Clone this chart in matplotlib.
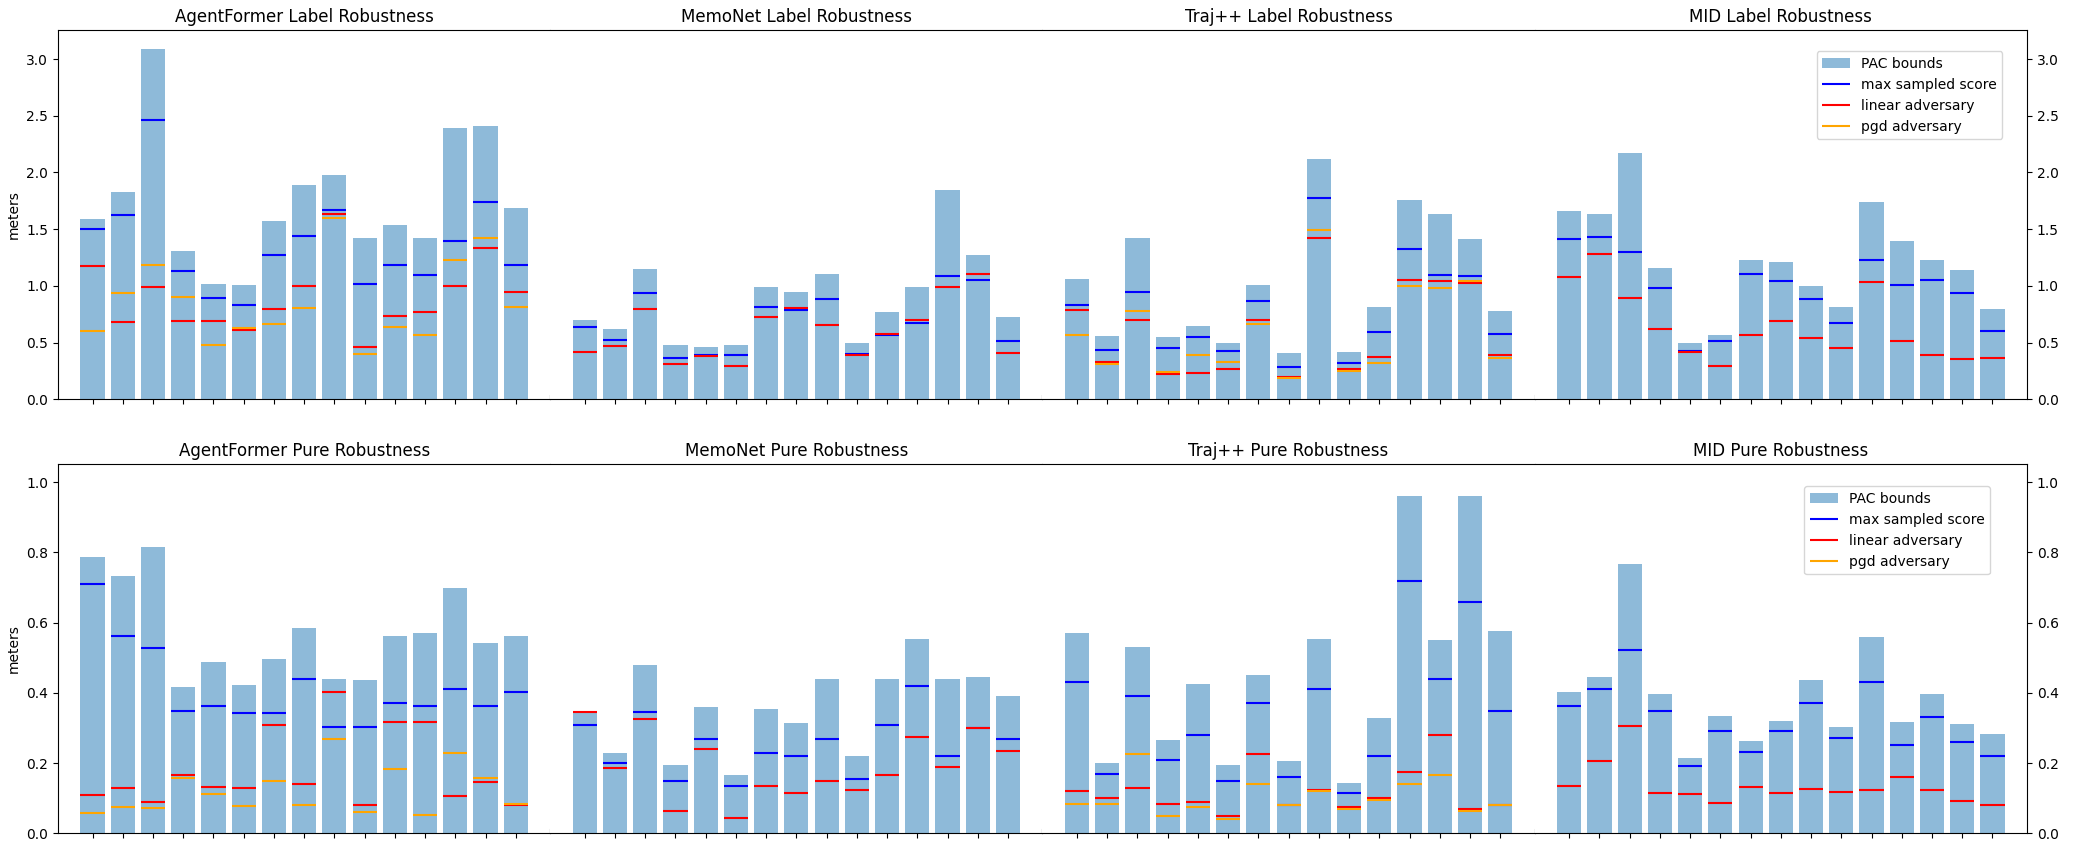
import numpy as np
import matplotlib
matplotlib.use("Agg")
import matplotlib.pyplot as plt

# ==========================================
# DATA (meters)
# ==========================================
models = ["AgentFormer", "MemoNet", "Traj++", "MID"]
rows = ["Label", "Pure"]

# --- Label robustness ---
af_label_pac = [1.593, 1.831, 3.09, 1.312, 1.021, 1.004, 1.576, 1.893, 1.981, 1.426, 1.540, 1.426, 2.394, 2.412, 1.690]
af_label_max = [1.505, 1.628, 2.459, 1.127, 0.889, 0.830, 1.276, 1.444, 1.673, 1.021, 1.180, 1.093, 1.394, 1.737, 1.183]
af_label_lin = [1.174, 0.681, 0.989, 0.689, 0.689, 0.610, 0.792, 0.998, 1.637, 0.461, 0.731, 0.768, 0.998, 1.332, 0.945]
af_label_pgd = [0.599, 0.933, 1.180, 0.898, 0.475, 0.625, 0.663, 0.801, 1.602, 0.402, 0.634, 0.566, 1.232, 1.426, 0.810]

mn_label_pac = [0.695, 0.616, 1.153, 0.475, 0.458, 0.475, 0.986, 0.942, 1.109, 0.493, 0.766, 0.986, 1.849, 1.276, 0.722]
mn_label_max = [0.637, 0.522, 0.933, 0.364, 0.390, 0.390, 0.810, 0.786, 0.883, 0.399, 0.566, 0.672, 1.086, 1.050, 0.514]
mn_label_lin = [0.417, 0.470, 0.792, 0.311, 0.382, 0.293, 0.722, 0.804, 0.654, 0.387, 0.578, 0.695, 0.989, 1.103, 0.408]
mn_label_pgd = []

tj_label_pac = [1.065, 0.555, 1.426, 0.546, 0.643, 0.493, 1.004, 0.405, 2.121, 0.414, 0.810, 1.761, 1.637, 1.417, 0.775]
tj_label_max = [0.830, 0.434, 0.942, 0.452, 0.548, 0.425, 0.863, 0.285, 1.778, 0.320, 0.593, 1.323, 1.100, 1.083, 0.575]
tj_label_lin = [0.786, 0.329, 0.695, 0.223, 0.232, 0.267, 0.695, 0.197, 1.420, 0.267, 0.373, 1.050, 1.039, 1.024, 0.390]
tj_label_pgd = [0.566, 0.314, 0.775, 0.244, 0.390, 0.329, 0.663, 0.188, 1.491, 0.249, 0.320, 0.998, 0.980, 1.039, 0.364]

mid_label_pac = [1.664, 1.637, 2.174, 1.162, 0.493, 0.563, 1.224, 1.215, 0.995, 0.810, 1.743, 1.400, 1.224, 1.136, 0.792]
mid_label_max = [1.411, 1.435, 1.297, 0.980, 0.425, 0.513, 1.109, 1.039, 0.880, 0.672, 1.227, 1.012, 1.048, 0.936, 0.602]
mid_label_lin = [1.077, 1.285, 0.889, 0.616, 0.417, 0.293, 0.566, 0.690, 0.540, 0.452, 1.033, 0.513, 0.390, 0.355, 0.364]
mid_label_pgd = []

# --- Pure robustness ---
af_pure_pac = [0.788, 0.734, 0.816, 0.416, 0.487, 0.424, 0.498, 0.586, 0.441, 0.436, 0.561, 0.572, 0.700, 0.541, 0.563]
af_pure_max = [0.709, 0.561, 0.529, 0.350, 0.362, 0.342, 0.342, 0.441, 0.302, 0.302, 0.370, 0.362, 0.410, 0.362, 0.402]
af_pure_lin = [0.109, 0.129, 0.089, 0.166, 0.132, 0.129, 0.308, 0.140, 0.402, 0.080, 0.316, 0.316, 0.106, 0.146, 0.080]
af_pure_pgd = [0.059, 0.076, 0.072, 0.157, 0.112, 0.078, 0.150, 0.081, 0.269, 0.061, 0.184, 0.053, 0.229, 0.157, 0.083]

mn_pure_pac = [0.345, 0.230, 0.480, 0.195, 0.360, 0.165, 0.355, 0.315, 0.440, 0.220, 0.440, 0.555, 0.440, 0.445, 0.390]
mn_pure_max = [0.310, 0.200, 0.345, 0.150, 0.270, 0.135, 0.230, 0.220, 0.270, 0.155, 0.310, 0.420, 0.220, 0.300, 0.270]
mn_pure_lin = [0.345, 0.185, 0.325, 0.065, 0.240, 0.045, 0.135, 0.115, 0.150, 0.125, 0.165, 0.275, 0.190, 0.300, 0.235]
mn_pure_pgd = []

tj_pure_pac = [0.570, 0.200, 0.530, 0.265, 0.425, 0.195, 0.450, 0.205, 0.555, 0.145, 0.330, 0.960, 0.550, 0.960, 0.575]
tj_pure_max = [0.430, 0.170, 0.390, 0.210, 0.280, 0.150, 0.370, 0.160, 0.410, 0.115, 0.220, 0.720, 0.440, 0.660, 0.350]
tj_pure_lin = [0.120, 0.100, 0.130, 0.085, 0.090, 0.050, 0.225, 0.080, 0.125, 0.075, 0.100, 0.175, 0.280, 0.070, 0.080]
tj_pure_pgd = [0.085, 0.085, 0.225, 0.050, 0.075, 0.040, 0.140, 0.080, 0.120, 0.070, 0.095, 0.140, 0.165, 0.065, 0.080]

mid_pure_pac = [0.404, 0.444, 0.768, 0.396, 0.214, 0.333, 0.262, 0.319, 0.436, 0.302, 0.558, 0.316, 0.396, 0.313, 0.282]
mid_pure_max = [0.363, 0.411, 0.522, 0.350, 0.192, 0.292, 0.232, 0.292, 0.371, 0.272, 0.431, 0.252, 0.331, 0.260, 0.221]
mid_pure_lin = [0.134, 0.206, 0.306, 0.116, 0.113, 0.087, 0.132, 0.116, 0.127, 0.118, 0.124, 0.161, 0.124, 0.093, 0.081]
mid_pure_pgd = []

panels = [
    [(af_label_pac, af_label_max, af_label_lin, af_label_pgd),
     (mn_label_pac, mn_label_max, mn_label_lin, mn_label_pgd),
     (tj_label_pac, tj_label_max, tj_label_lin, tj_label_pgd),
     (mid_label_pac, mid_label_max, mid_label_lin, mid_label_pgd)],
    [(af_pure_pac, af_pure_max, af_pure_lin, af_pure_pgd),
     (mn_pure_pac, mn_pure_max, mn_pure_lin, mn_pure_pgd),
     (tj_pure_pac, tj_pure_max, tj_pure_lin, tj_pure_pgd),
     (mid_pure_pac, mid_pure_max, mid_pure_lin, mid_pure_pgd)],
]

row_ylim = [3.255, 1.051]
legend_anchor = [(0.95, 0.943), (0.925, 0.94)]

# ==========================================
# PLOT
# ==========================================
fig, axes = plt.subplots(2, 4, figsize=(20.8, 8.61), dpi=100, sharey="row")
fig.subplots_adjust(left=0.0279, right=0.9745, top=0.965, bottom=0.032,
                    wspace=0.0, hspace=0.176)

half = 0.4
for r in range(2):
    for c in range(4):
        ax = axes[r, c]
        pac, mx, lin, pgd = panels[r][c]
        x = np.arange(len(pac))

        bars = ax.bar(x, pac, width=0.8, color="tab:blue", alpha=0.5, label="PAC bounds")
        h1 = ax.hlines(mx, x - half, x + half, colors="blue", label="max sampled score")
        h2 = ax.hlines(lin, x - half, x + half, colors="red", label="linear adversary")
        xp = np.arange(len(pgd))
        h3 = ax.hlines(pgd, xp - half, xp + half, colors="orange", label="pgd adversary")

        ax.set_title(f"{models[c]} {rows[r]} Robustness")
        ax.set_xticks(x)
        ax.set_xticklabels([])
        ax.set_ylim(0, row_ylim[r])

        if c > 0:
            ax.spines["left"].set_visible(False)
        if c < 3:
            # only a small stub of the separator is left at the bottom
            ax.spines["right"].set_bounds(0, row_ylim[r] * 0.011)
        if c == 0:
            ax.set_ylabel("meters")
        elif c == 3:
            ax.yaxis.tick_right()
            ax.tick_params(axis="y", which="both", labelright=True, labelleft=False)
            ax.legend(handles=[bars, h1, h2, h3], loc="upper right",
                      bbox_to_anchor=legend_anchor[r], borderaxespad=0.0)
        if c in (1, 2):
            ax.tick_params(axis="y", left=False, right=False)
        elif c == 0:
            ax.tick_params(axis="y", right=False)

fig.savefig("out.png", dpi=100)
